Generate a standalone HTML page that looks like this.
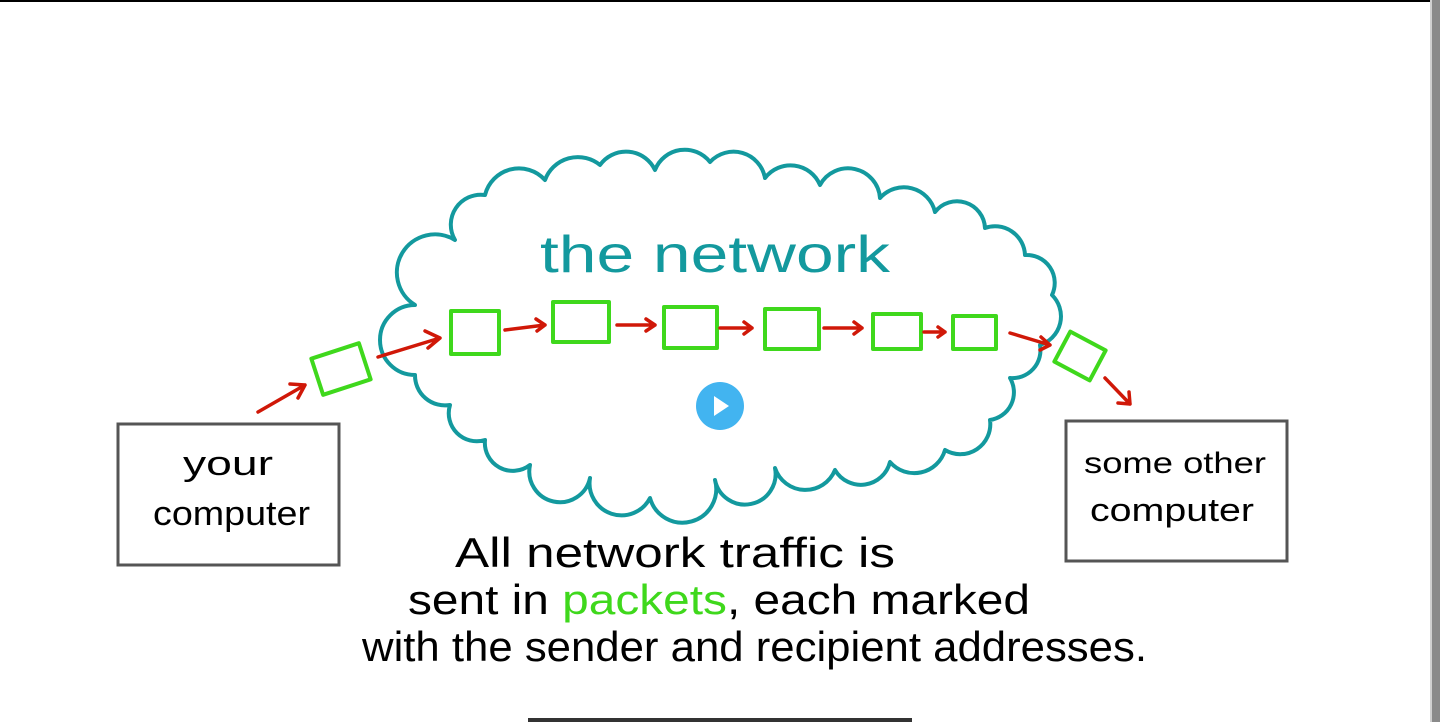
<!DOCTYPE html>
<html><head><meta charset="utf-8"><style>
html,body{margin:0;padding:0;background:#fff;width:1440px;height:722px;overflow:hidden}
svg{display:block}
text{font-family:"Liberation Sans",sans-serif}
</style></head><body>
<svg width="1440" height="722" viewBox="0 0 1440 722">
<rect x="0" y="0" width="1440" height="2" fill="#000"/>
<rect x="1432" y="0" width="8" height="722" fill="#8a8a8a"/>
<rect x="1430" y="0" width="2" height="722" fill="#d0d0d0"/>
<rect x="528" y="718" width="384" height="4" fill="#333"/>

<!-- cloud -->
<path d="M415,305 A30,30 0 0 1 455,240 A30,30 0 0 1 485,195 A35,35 0 0 1 545,180 A35,35 0 0 1 600,165 A32,32 0 0 1 655,170 A32,32 0 0 1 710,162 A32,32 0 0 1 765,178 A32,32 0 0 1 820,185 A32,32 0 0 1 880,198 A32,32 0 0 1 935,212 A28,28 0 0 1 985,228 A30,30 0 0 1 1025,255 A28,28 0 0 1 1052,295 A30,30 0 0 1 1040,345 A28,28 0 0 1 1010,378 A28,28 0 0 1 990,420 A30,30 0 0 1 945,450 A32,32 0 0 1 890,462 A30,30 0 0 1 835,470 A32,32 0 0 1 775,468 A30,30 0 0 1 715,480 A32,32 0 0 1 650,498 A32,32 0 0 1 590,478 A30,30 0 0 1 530,465 A28,28 0 0 1 485,440 A28,28 0 0 1 450,405 A30,30 0 0 1 415,375 A35,35 0 0 1 415,305 Z" fill="none" stroke="#13999e" stroke-width="4" stroke-linejoin="round"/>

<text x="540" y="272" font-size="52" fill="#13999e" textLength="350" lengthAdjust="spacingAndGlyphs">the network</text>

<!-- packets -->
<g fill="none" stroke="#3fd81c" stroke-width="4" stroke-linejoin="round">
<rect x="316" y="350" width="50" height="38" transform="rotate(-18 341 369)"/>
<rect x="451" y="311" width="48" height="43"/>
<rect x="553" y="302" width="56" height="40"/>
<rect x="664" y="307" width="53" height="41"/>
<rect x="765" y="309" width="54" height="40"/>
<rect x="873" y="314" width="48" height="35"/>
<rect x="953" y="316" width="43" height="33"/>
<rect x="1060" y="339" width="40" height="34" transform="rotate(28 1080 356)"/>
</g>

<!-- red arrows -->
<g fill="none" stroke="#d01808" stroke-width="3.5" stroke-linecap="round" stroke-linejoin="round">
<path d="M258,412 L305,385 M290,384 L305,385 L298,398"/>
<path d="M378,357 L440,338 M425,331 L440,338 L428,348"/>
<path d="M505,330 L545,325 M536,319 L545,325 L537,331"/>
<path d="M617,325 L655,325 M646,319 L655,325 L646,331"/>
<path d="M720,328 L752,328 M744,322 L752,328 L744,334"/>
<path d="M824,328 L862,328 M854,322 L862,328 L854,334"/>
<path d="M924,332 L945,332 M938,327 L945,332 L938,337"/>
<path d="M1010,333 L1050,345 M1041,337 L1050,345 L1040,350"/>
<path d="M1105,378 L1130,404 M1129,392 L1130,404 L1118,403"/>
</g>

<!-- boxes -->
<rect x="118" y="424" width="221" height="141" fill="none" stroke="#555" stroke-width="3"/>
<rect x="1066" y="421" width="221" height="140" fill="none" stroke="#555" stroke-width="3"/>
<text x="183" y="475" font-size="34" fill="#000" textLength="90" lengthAdjust="spacingAndGlyphs">your</text>
<text x="153" y="525" font-size="34" fill="#000" textLength="157" lengthAdjust="spacingAndGlyphs">computer</text>
<text x="1084" y="473" font-size="30" fill="#000" textLength="182" lengthAdjust="spacingAndGlyphs">some other</text>
<text x="1090" y="521" font-size="32" fill="#000" textLength="164" lengthAdjust="spacingAndGlyphs">computer</text>

<!-- caption -->
<text x="455" y="567" font-size="42" fill="#000" textLength="440" lengthAdjust="spacingAndGlyphs">All network traffic is</text>
<text x="408" y="614" font-size="42" fill="#000" textLength="622" lengthAdjust="spacingAndGlyphs">sent  in <tspan fill="#3fd81c">packets</tspan>, each marked</text>
<text x="362" y="661" font-size="42" fill="#000" textLength="785" lengthAdjust="spacingAndGlyphs">with the sender and recipient addresses.</text>

<!-- play button -->
<circle cx="720" cy="406" r="24" fill="#42b4f0"/>
<path d="M714,396 L714,416 L729,406 Z" fill="#fff"/>
</svg>
</body></html>
